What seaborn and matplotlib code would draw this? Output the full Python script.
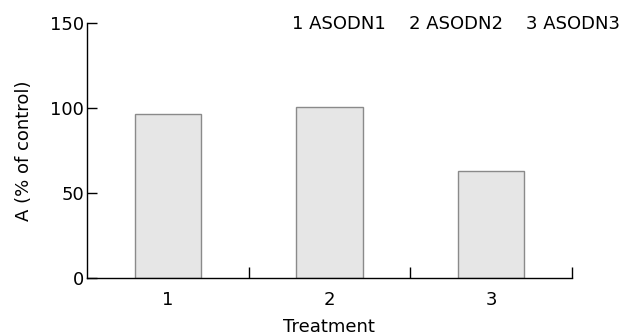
import matplotlib
matplotlib.use("Agg")
import matplotlib.pyplot as plt
import numpy as np
import pandas as pd
import seaborn as sns

treatments = ["1", "2", "3"]
values = [96.5, 100.5, 63.0]
legend_items = ["1 ASODN1", "2 ASODN2", "3 ASODN3"]
y_ticks = [0, 50, 100, 150]

sns.set_style("ticks")
plt.rcParams["font.family"] = ["DejaVu Sans"]
plt.rcParams["text.color"] = "black"
plt.rcParams["axes.labelcolor"] = "black"

df = pd.DataFrame({"Treatment": treatments, "A": values})

fig = plt.figure(figsize=(6.25, 3.35), dpi=100)
ax = fig.add_axes([0.139, 0.170, 0.776, 0.761])

sns.barplot(data=df, x="Treatment", y="A", ax=ax, width=0.41,
            color="#e6e6e6", edgecolor="#8a8a8a", linewidth=1.0,
            saturation=1)

ax.set_xlim(-0.5, 2.5)
ax.set_ylim(0, 150)
ax.set_yticks(y_ticks)
sns.despine(ax=ax)
for s in ("left", "bottom"):
    ax.spines[s].set_linewidth(1.0)
    ax.spines[s].set_color("black")

ax.tick_params(axis="y", direction="in", length=7.5, width=1.0,
               labelsize=13, pad=2, colors="black")
ax.tick_params(axis="x", which="major", length=0, labelsize=13, pad=9,
               colors="black")
ax.set_xticks([0.5, 1.5, 2.5], minor=True)
ax.tick_params(axis="x", which="minor", direction="in", length=8, width=1.0,
               colors="black")

ax.set_xlabel("Treatment", fontsize=13, labelpad=7)
ax.set_ylabel("A (% of control)", fontsize=13, labelpad=12)

legend_x = [0.423, 0.664, 0.905]
for lx, item in zip(legend_x, legend_items):
    ax.text(lx, 0.995, item, transform=ax.transAxes, fontsize=13,
            ha="left", va="center")

fig.savefig("out.png", dpi=100)
